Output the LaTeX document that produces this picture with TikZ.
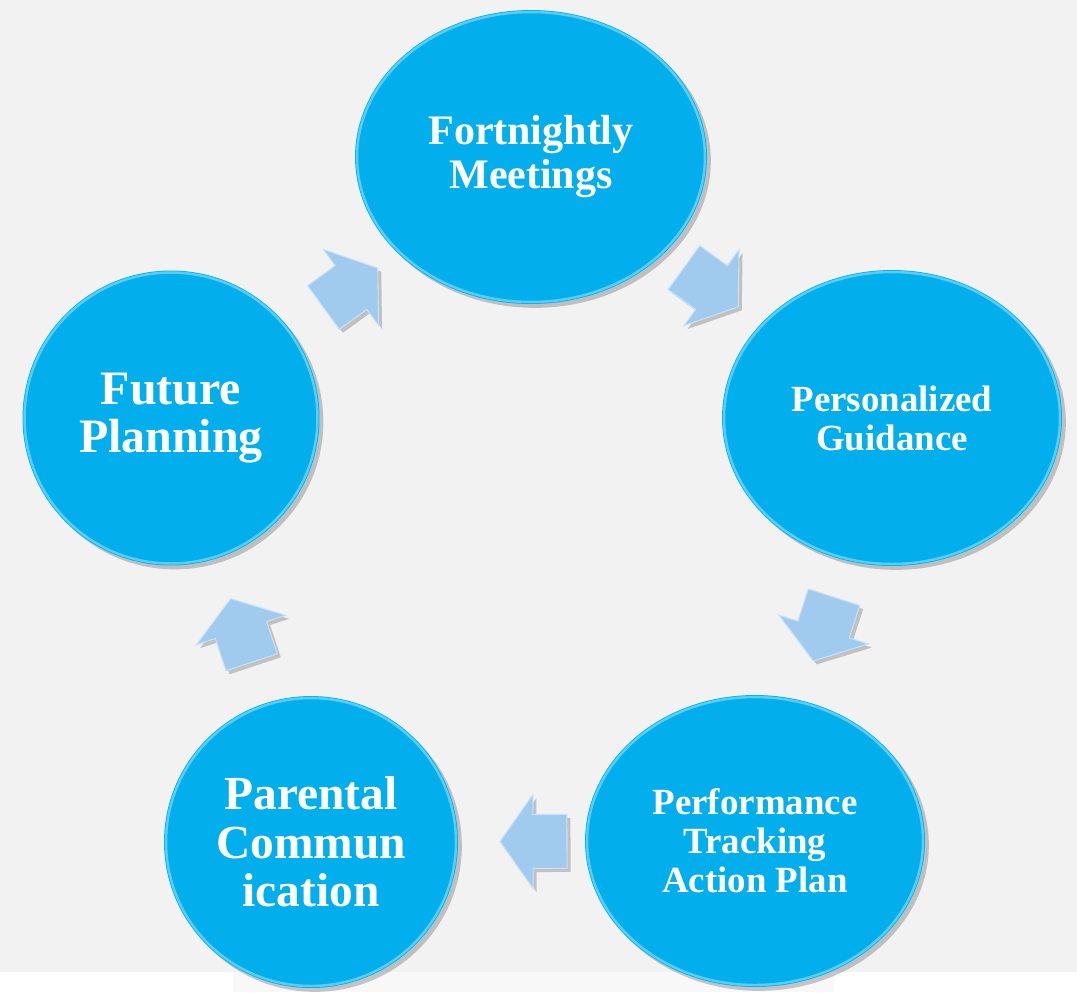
\documentclass[tikz,border=0pt]{standalone}
\usepackage{fontspec}
\setmainfont{Liberation Serif}
\usetikzlibrary{shapes.geometric,calc,shadows}
\definecolor{bggray}{HTML}{F2F2F2}
\definecolor{bglight}{HTML}{F8F8F8}
\definecolor{bubcyan}{HTML}{02AEEC}
\definecolor{rimcyan}{HTML}{8FE4FD}
\definecolor{arrowblue}{HTML}{A0CBEE}
\definecolor{arrowedge}{HTML}{C6E2F8}
\tikzset{
  bub/.style={ellipse, fill=bubcyan, inner sep=0pt, align=center, text=white,
    drop shadow={shadow xshift=2.2pt, shadow yshift=-2.2pt, fill=black!70, opacity=0.3}},
  rim/.style={draw=rimcyan, line width=1.4pt, opacity=0.6},
  cyclearrow/.style={fill=arrowblue, draw=arrowedge, line width=0.6pt, line join=miter,
    drop shadow={shadow xshift=2pt, shadow yshift=-2pt, fill=black, opacity=0.2}},
}
\newcommand\cyclearrowdraw[2]{%
  \pgfmathanglebetweenpoints{\pgfpointanchor{#1}{center}}{\pgfpointanchor{#2}{center}}%
  \let\arrang\pgfmathresult
  \begin{scope}[shift={($(#1.center)!0.5!(#2.center)$)}, rotate=\arrang]
    \path[cyclearrow] (-0.68cm,-0.54cm) -- (0cm,-0.54cm) -- (0cm,-0.94cm) -- (0.66cm,0cm)
      -- (0cm,0.94cm) -- (0cm,0.54cm) -- (-0.68cm,0.54cm) -- cycle;
  \end{scope}}
\begin{document}
\begin{tikzpicture}[x=0.02cm, y=-0.02cm]
\useasboundingbox (0,0) rectangle (1077,992);
\fill[bggray] (0,0) rectangle (1077,972);
\fill[white] (0,972) rectangle (1077,992);
\fill[bglight] (233,972) rectangle (834,992);

\node[bub, minimum width=7.04cm, minimum height=5.88cm,
  font=\bfseries\fontsize{23.9}{25}\selectfont] (fm) at (531,157) {Fortnightly\\Meetings};
\node[bub, minimum width=6.8cm, minimum height=5.92cm,
  font=\bfseries\fontsize{21}{22.2}\selectfont] (pg) at (892,418) {Personalized\\Guidance};
\node[bub, minimum width=6.8cm, minimum height=5.84cm,
  font=\bfseries\fontsize{21}{22.2}\selectfont] (pt) at (755,841) {Performance\\Tracking\\Action Plan};
\node[bub, minimum width=5.88cm, minimum height=5.84cm,
  font=\bfseries\fontsize{27}{27.6}\selectfont] (pc) at (311,842) {Parental\\Commun\\ication};
\node[bub, minimum width=5.94cm, minimum height=5.9cm,
  font=\bfseries\fontsize{27.3}{27.3}\selectfont] (fp) at (171,418) {Future\\Planning};

\draw[rim] (fm.center) ellipse [x radius=3.48cm, y radius=2.9cm];
\draw[rim] (pg.center) ellipse [x radius=3.36cm, y radius=2.92cm];
\draw[rim] (pt.center) ellipse [x radius=3.36cm, y radius=2.88cm];
\draw[rim] (pc.center) ellipse [x radius=2.9cm, y radius=2.88cm];
\draw[rim] (fp.center) ellipse [x radius=2.93cm, y radius=2.91cm];

\cyclearrowdraw{fm}{pg}
\cyclearrowdraw{pg}{pt}
\cyclearrowdraw{pt}{pc}
\cyclearrowdraw{pc}{fp}
\cyclearrowdraw{fp}{fm}
\end{tikzpicture}
\end{document}
